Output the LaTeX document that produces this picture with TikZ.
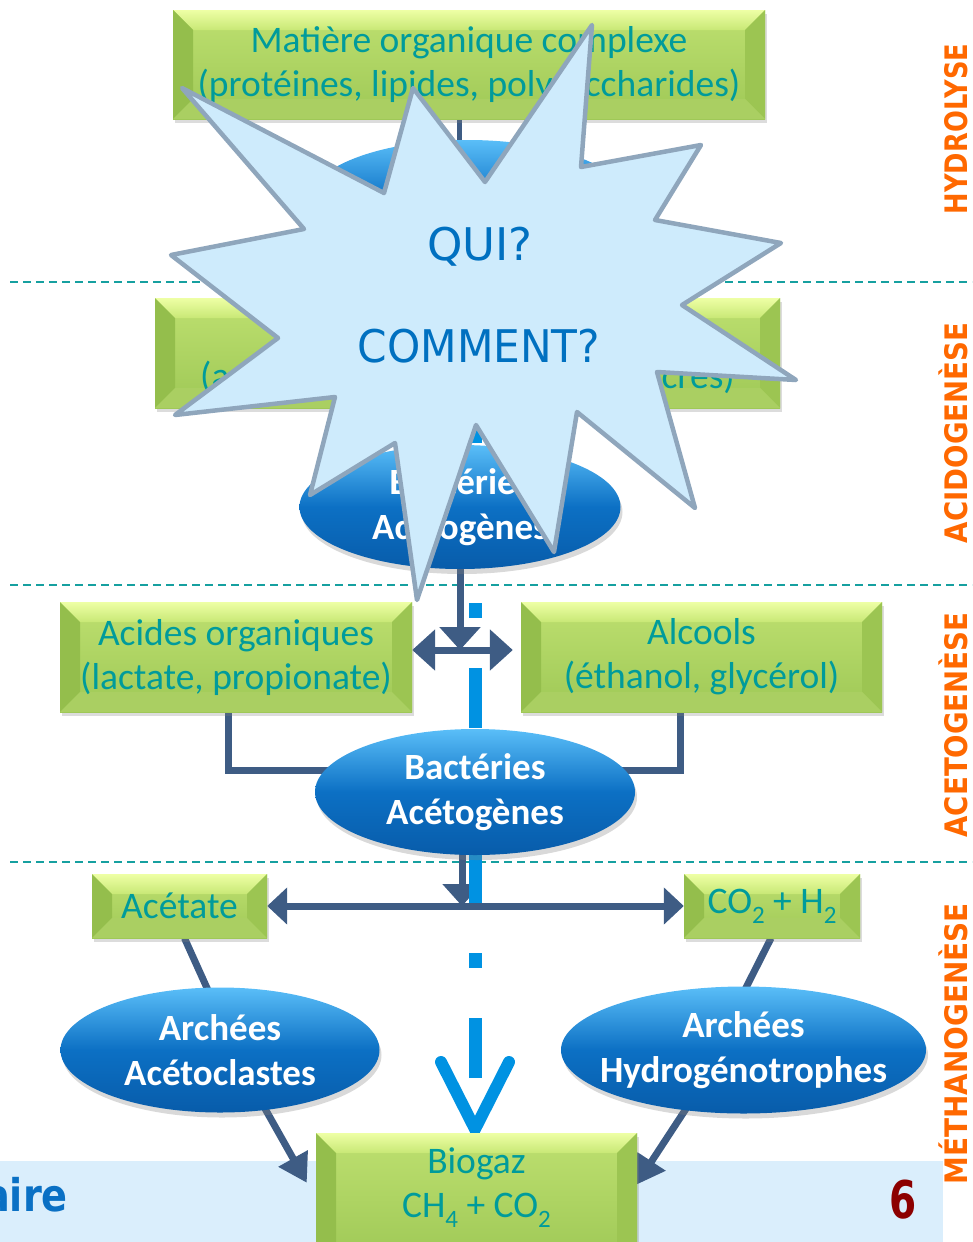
\documentclass[tikz,border=0pt]{standalone}
\usepackage{fontspec}
\setmainfont{Carlito}
\newfontfamily\dvf{DejaVu Sans}
\usetikzlibrary{shapes.geometric,arrows.meta,shadows}
\definecolor{tealtxt}{RGB}{0,155,155}
\definecolor{gTop}{RGB}{190,224,112}
\definecolor{gBot}{RGB}{158,200,86}
\definecolor{bevTa}{RGB}{238,255,165}
\definecolor{bevTb}{RGB}{200,232,118}
\definecolor{bevL}{RGB}{148,190,76}
\definecolor{bevR}{RGB}{156,197,82}
\definecolor{bevB}{RGB}{170,207,98}
\definecolor{eTop}{RGB}{90,190,248}
\definecolor{eMid}{RGB}{12,112,196}
\definecolor{eBot}{RGB}{8,92,170}
\definecolor{connc}{RGB}{62,92,132}
\definecolor{bluel}{RGB}{0,146,226}
\definecolor{sepc}{RGB}{22,160,160}
\definecolor{orng}{RGB}{255,104,0}
\definecolor{burstf}{RGB}{206,235,252}
\definecolor{bursts}{RGB}{143,166,188}
\definecolor{quic}{RGB}{0,112,192}
\definecolor{stripc}{RGB}{218,238,252}
\definecolor{footc}{RGB}{10,112,196}
\definecolor{pgred}{RGB}{140,0,0}
\pgfdeclarelayer{bg}
\pgfsetlayers{bg,main}
\newcommand\sbs[1]{\raisebox{-10pt}{\fontsize{25pt}{25pt}\selectfont #1}}
\begin{document}
\begin{tikzpicture}[x=1pt,y=-1pt,
  gbox/.style={rectangle, inner sep=0pt, align=center, text=tealtxt,
    font=\fontsize{37.5pt}{44pt}\selectfont,
    top color=gTop, bottom color=gBot,
    drop shadow={shadow xshift=2pt, shadow yshift=-4pt, opacity=.28},
    path picture={
      \path (path picture bounding box.north west) coordinate (pNW)
            (path picture bounding box.north east) coordinate (pNE)
            (path picture bounding box.south west) coordinate (pSW)
            (path picture bounding box.south east) coordinate (pSE);
      \shade[top color=bevTa, bottom color=bevTb] (pNW) -- (pNE) -- ([shift={(-20pt,-20pt)}]pNE) -- ([shift={(20pt,-20pt)}]pNW) -- cycle;
      \fill[bevL] (pNW) -- ([shift={(20pt,-20pt)}]pNW) -- ([shift={(20pt,20pt)}]pSW) -- (pSW) -- cycle;
      \fill[bevR] (pNE) -- ([shift={(-20pt,-20pt)}]pNE) -- ([shift={(-20pt,20pt)}]pSE) -- (pSE) -- cycle;
      \fill[bevB] (pSW) -- ([shift={(20pt,20pt)}]pSW) -- ([shift={(-20pt,20pt)}]pSE) -- (pSE) -- cycle;
    }},
  gtxt/.style={align=center, text=tealtxt, font=\fontsize{37.5pt}{44pt}\selectfont, inner sep=0pt},
  bell/.style={ellipse, inner xsep=-30pt, inner ysep=-25pt, align=center, text=white,
    font=\bfseries\fontsize{37pt}{45pt}\selectfont,
    top color=eTop, bottom color=eBot, middle color=eMid,
    drop shadow={shadow xshift=2pt, shadow yshift=-5pt, opacity=.3}},
  conn/.style={draw=connc, line width=7pt},
  bline/.style={draw=bluel, line width=13pt},
  sepline/.style={draw=sepc, line width=2.2pt, dash pattern=on 8pt off 5pt},
  side/.style={rotate=90, anchor=base, text=orng, inner sep=0pt,
    font=\dvf\bfseries\fontsize{31pt}{31pt}\selectfont},
  burst/.style={fill=burstf, draw=bursts, line width=4.5pt, line join=round},
  qtxt/.style={anchor=base, text=quic, inner sep=0pt, font=\dvf\fontsize{45pt}{45pt}\selectfont},
  bigtip/.style={-{Triangle[width=40pt,length=23pt]}},
]
\useasboundingbox (0,0) rectangle (972,1242);
\clip (0,0) rectangle (972,1242);

% boxes
\node[gbox, minimum width=592pt, minimum height=109pt] (mo) at (469,64.5)
  {Matière organique complexe\\(protéines, lipides, polysaccharides)};
\node[gbox, minimum width=625pt, minimum height=110pt] (mono) at (467.5,353) {};
\node[gtxt, anchor=base] (monot) at (467.5,388) {(acides aminés, acides gras, sucres)};
\node[gbox, minimum width=352pt, minimum height=110pt] (aci) at (236,657)
  {Acides organiques\\(lactate, propionate)};
\node[gbox, minimum width=361pt, minimum height=110pt] (alc) at (701.5,657)
  {Alcools\\(éthanol, glycérol)};
\node[gbox, minimum width=175pt, minimum height=64pt] (acet) at (179.5,906) {Acétate};
\node[gbox, minimum width=176pt, minimum height=64pt] (co2) at (772,906) {CO\sbs{2} + H\sbs{2}};
\node[gbox, minimum width=321pt, minimum height=130pt] (bio) at (476.5,1198) {};
\node[gtxt] (biot) at (476.5,1188) {Biogaz\\CH\sbs{4} + CO\sbs{2}};

% ellipses
\node[bell, minimum width=320pt, minimum height=124pt] (e1) at (468,202) {};
\node[bell, minimum width=321pt, minimum height=124pt] (e2) at (460,507) {Bactéries\\Acidogènes};
\node[bell, minimum width=320pt, minimum height=126pt] (e3) at (475,792) {Bactéries\\Acétogènes};
\node[bell, minimum width=319pt, minimum height=125pt] (e4) at (220,1050) {Archées\\Acétoclastes};
\node[bell, minimum width=365pt, minimum height=127pt] (e5) at (743.5,1050) {Archées\\Hydrogénotrophes};

\coordinate (e3b) at ([xshift=-13pt]e3.center);
\coordinate (b0) at (475,143);
\coordinate (b1) at (475,1078);
\coordinate (vL) at (441,1062);
\coordinate (vT) at (475,1129);
\coordinate (vR) at (509,1062);
\coordinate (s1a) at (10,282);  \coordinate (s1b) at (972,282);
\coordinate (s2a) at (10,585);  \coordinate (s2b) at (972,585);
\coordinate (s3a) at (10,862);  \coordinate (s3b) at (972,862);

\begin{pgfonlayer}{bg}
  \fill[stripc] (0,1161) rectangle (943,1242);
  \draw[sepline] (s1a) -- (s1b);
  \draw[sepline] (s2a) -- (s2b);
  \draw[sepline] (s3a) -- (s3b);
  % connectors
  \draw[conn, line width=5pt] ([xshift=-10pt]mo.south) -- ([xshift=-9pt]e1.center);
  \draw[conn] ([xshift=-7.5pt]mono.south) -- (e2.center);
  \draw[conn, bigtip] (e2.center) -- ([yshift=7pt]aci.east -| e2.center);
  \draw[conn, {Triangle[width=40pt,length=23pt]}-{Triangle[width=40pt,length=23pt]}]
     ([yshift=7pt]aci.east) -- ([xshift=-8pt,yshift=7pt]alc.west);
  \draw[conn] ([xshift=-8pt]aci.south) |- ([yshift=22pt]e3.center);
  \draw[conn] ([xshift=-21pt]alc.south) |- ([yshift=22pt]e3.center);
  \draw[conn, -{Triangle[width=38pt,length=22pt]}] (e3b) -- (e3b |- acet.east);
  \draw[conn, {Triangle[width=36pt,length=20pt]}-{Triangle[width=36pt,length=20pt]}] (acet.east) -- (co2.west);
  \draw[conn] ([xshift=5pt]acet.south) -- ([xshift=15pt]e4.center);
  \draw[conn] ([xshift=-1pt]co2.south) -- ([xshift=-29pt]e5.center);
  \draw[conn, -{Triangle[width=32pt,length=28pt]}] ([xshift=12pt]e4.center) -- ([shift={(-9pt,-50pt)}]bio.north west);
  \draw[conn, -{Triangle[width=32pt,length=28pt]}] ([xshift=-19pt]e5.center) -- ([shift={(-1pt,-52pt)}]bio.north east);
  % bright blue dash-dot path with open head
  \draw[bline, dash pattern=on 60pt off 50pt on 15pt off 50pt] (b0) -- (b1);
  \draw[bline, line width=12pt, line cap=round, line join=miter] (vL) -- (vT) -- (vR);
\end{pgfonlayer}

% side labels
\node[side] (lh) at (967,129) {\scalebox{0.83}[1]{HYDROLYSE}};
\node[side] (la) at (967,433) {\scalebox{0.89}[1]{ACIDOGENÈSE}};
\node[side] (lt) at (967,725) {\scalebox{0.89}[1]{ACETOGENÈSE}};
\node[side] (lm) at (967,1044) {\scalebox{0.90}[1]{MÉTHANOGENÈSE}};

% footer
\node[anchor=base east, text=footc, inner sep=0pt, font=\dvf\bfseries\fontsize{45pt}{45pt}\selectfont] (ft) at (68,1211) {\scalebox{0.85}[1]{aire}};
\node[anchor=base, text=pgred, inner sep=0pt, font=\dvf\bfseries\fontsize{52pt}{52pt}\selectfont] (pn) at (903.5,1218) {\scalebox{0.75}[1]{6}};

% starburst
\draw[burst] (592,25) -- (581,167) -- (701,145) -- (655,220) -- (781,243) -- (682,305)
  -- (796,380) -- (657,372) -- (695,508) -- (577,412) -- (554,552) -- (476,425)
  -- (417,600) -- (395,443) -- (310,495) -- (335,397) -- (175,415) -- (278,338)
  -- (171,255) -- (304,229) -- (182,88) -- (384,193) -- (413,88) -- (485,182) -- cycle;
\node[qtxt] (qui) at (480,260) {QUI?};
\node[qtxt] (com) at (479,362) {\scalebox{0.94}[1]{COMMENT?}};
\end{tikzpicture}
\end{document}
